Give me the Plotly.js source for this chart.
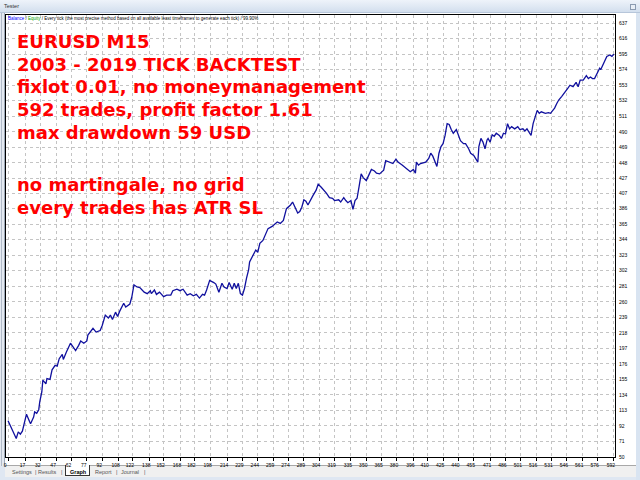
<!DOCTYPE html>
<html><head><meta charset="utf-8">
<script src="https://cdn.plot.ly/plotly-3.0.1.min.js"></script>
<style>
body{margin:0;width:640px;height:480px;overflow:hidden;background:#dfe7f2;position:relative;font-family:"Liberation Sans",Arial,sans-serif;}
.abs{position:absolute;}
#title{left:0;top:0;width:640px;height:12px;background:linear-gradient(#eef3fa,#d3dfee);border-bottom:1px solid #b7c6da;}
#title span{position:absolute;left:4px;top:3px;font-size:5.5px;color:#333;}
#btn{left:630px;top:4px;width:4px;height:4px;border:1px solid #8a9ab0;background:#e8eef6;}
#leftbar{left:0;top:13px;width:4px;height:453px;background:#e4e9f1;border-right:1px solid #9aa6b6;}
#leftbar div{position:absolute;left:1px;top:0;width:1px;height:453px;background:#b0bac8;}
#panel{left:5px;top:13px;width:631px;height:453px;background:#fff;}
#tabs{left:5px;top:465px;width:631px;height:11px;background:#f0f0f0;border-top:1px solid #a8a8a8;font-size:5.5px;color:#555;}
#tabs span{position:absolute;top:3px;}
#gtab{position:absolute;left:60px;top:-1px;width:23px;height:10px;background:#fff;border:1px solid #333;border-top:none;}
#rightbar{left:636px;top:13px;width:4px;height:467px;background:#d9e4f1;}
#plot{left:0;top:0;width:640px;height:480px;}
</style></head>
<body>
<div id="title" class="abs"><span>Tester</span></div>
<div id="btn" class="abs"></div>
<div id="leftbar" class="abs"><div></div></div>
<div id="panel" class="abs"></div>
<div id="tabs" class="abs">
  <div id="gtab"></div>
  <span style="left:7px">Settings</span><span style="left:30px">|</span>
  <span style="left:33px">Results</span><span style="left:56px">|</span>
  <span style="left:65px;font-weight:bold;color:#000">Graph</span>
  <span style="left:90px">Report</span><span style="left:111px">|</span>
  <span style="left:116px">Journal</span><span style="left:139px">|</span>
</div>
<div id="rightbar" class="abs"></div>
<div id="plot" class="abs"></div>
<script>
// ---- data ----
const trades = [0,8,10,12,14,18,21,22,25,26,28,30,31,33,34,37,38,41,43,46,48,50,53,54,57,61,63,66,69,71,74,77,78,83,86,90,92,95,98,100,102,105,107,109,113,115,119,121,123,126,129,133,136,139,140,143,145,148,152,155,159,161,165,168,171,175,178,181,184,187,190,192,194,197,201,203,206,209,211,214,216,219,221,223,225,227,229,231,233,235,236,239,242,244,246,249,251,254,258,263,266,269,272,274,276,278,280,283,285,287,289,291,293,296,298,301,303,306,308,311,314,317,319,323,325,328,330,332,335,337,339,341,343,345,347,350,352,355,358,360,363,367,369,372,374,376,379,381,385,388,391,393,396,398,399,401,403,406,408,411,413,415,417,419,421,423,425,427,429,431,433,435,438,440,442,445,447,450,452,455,457,459,460,462,464,466,468,469,471,473,475,477,480,482,484,486,488,490,492,495,498,500,503,505,507,509,511,513,515,517,519,521,525,528,530,532,534,536,538,541,544,547,549,552,555,557,559,562,565,567,569,571,573,576,578,579,581,583,585,588,590,592];
const balance = [99,75,84,81,85,108,98,95,104,111,109,114,125,138,154,149,156,155,168,174,173,183,189,182,192,204,200,194,201,207,204,207,215,224,219,221,228,242,238,242,236,246,240,247,258,253,257,267,283,280,279,273,271,275,271,276,270,273,267,269,269,275,277,275,277,269,271,268,270,265,270,269,276,289,286,284,273,285,280,278,286,277,285,278,285,271,269,278,292,303,314,323,330,327,339,343,349,359,362,368,366,370,386,388,391,395,389,380,382,388,398,396,391,400,404,411,419,415,412,407,401,400,397,398,395,401,397,394,397,385,397,400,416,433,428,424,430,439,437,434,433,438,451,449,448,447,453,449,445,442,438,436,439,434,449,445,447,448,449,454,461,457,449,443,461,470,474,485,501,500,493,488,493,485,478,474,474,467,461,458,453,449,470,481,476,467,479,481,476,486,484,488,485,481,488,487,501,494,497,494,497,493,494,491,494,490,485,501,510,519,515,517,515,516,515,519,522,528,533,538,543,549,553,551,557,551,560,560,566,562,564,562,562,571,576,574,580,586,592,594,592,595];
const xTicks = [0,17,32,47,62,77,92,108,122,138,152,168,182,198,214,229,244,259,274,289,304,319,335,350,365,380,396,410,425,440,455,471,486,501,516,531,546,561,576,592];
const yTicks = [50,71,92,113,134,155,176,197,218,239,260,281,302,323,344,365,386,407,427,448,469,490,511,532,553,574,595,616,637];
const noteLines = ["EURUSD M15","2003 - 2019 TICK BACKTEST","fixlot 0.01, no moneymanagement","592 trades, profit factor 1.61","max drawdown 59 USD","no martingale, no grid","every trades has ATR SL"];
const headerText = '<span style="color:#0000ff">Balance</span> / <span style="color:#00a000">Equity</span> / Every tick (the most precise method based on all available least timeframes to generate each tick) / 99.90%';

// ---- layout helpers (pixel -> paper) ----
const L=6, R=615, T=15, B=457;
const px = x => (x-L)/(R-L);
const py = y => (B-y)/(B-T);
const baselines = [47.5,70.3,93.1,115.9,138.7,190.6,213.3];

const annotations = noteLines.map((t,i)=>({
  text:t, xref:'paper', yref:'paper', x:px(14.5), y:py(baselines[i]-6.2),
  xanchor:'left', yanchor:'middle', showarrow:false,
  font:{family:'DejaVu Sans', size:18, color:'#ff0000', weight:'bold'}
}));
annotations.push({
  text:headerText, xref:'paper', yref:'paper', x:px(6), y:py(18.5),
  xanchor:'left', yanchor:'middle', showarrow:false,
  font:{family:'Liberation Sans', size:4.5, color:'#000'}
});

const grid = {showgrid:true, gridcolor:'#c4c4c4', griddash:'dot', gridwidth:1, zeroline:false,
  showline:true, mirror:true, linecolor:'#000', linewidth:1, fixedrange:true};

Plotly.newPlot('plot', [{
  x: trades, y: balance, type:'scatter', mode:'lines',
  line:{color:'#10109e', width:1.3}, hoverinfo:'skip'
}], {
  width:640, height:480,
  margin:{l:L, r:640-R, t:T, b:480-B, pad:0},
  paper_bgcolor:'rgba(0,0,0,0)', plot_bgcolor:'#ffffff',
  showlegend:false,
  xaxis:Object.assign({}, grid, {range:[-2,593], tickmode:'array', tickvals:xTicks, ticktext:xTicks.map(String),
    ticks:'outside', ticklen:3, tickcolor:'#000', tickwidth:1, ticklabelshift:-3,
    tickfont:{family:'Liberation Sans', size:5, color:'#000'}}),
  yaxis:Object.assign({}, grid, {range:[50,648], side:'right', tickmode:'array', tickvals:yTicks, ticktext:yTicks.map(String),
    ticks:'', ticklabelstandoff:2,
    tickfont:{family:'Liberation Sans', size:5, color:'#000'}}),
  annotations: annotations
}, {staticPlot:true, displayModeBar:false});
</script>
</body></html>
